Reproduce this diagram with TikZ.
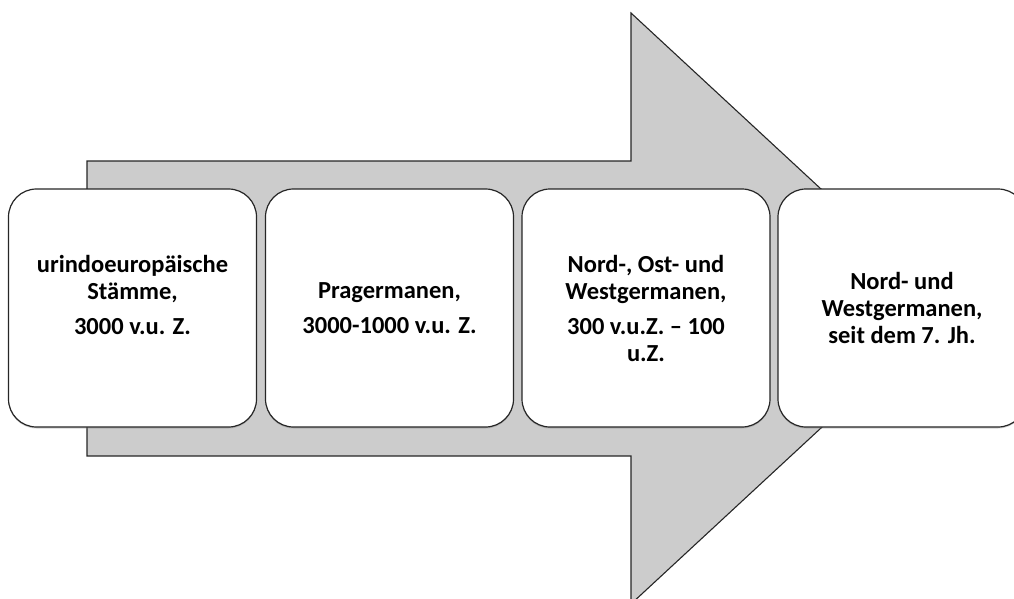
\documentclass[tikz,border=0pt]{standalone}
\usepackage{fontspec}
\setmainfont{Carlito}
\usetikzlibrary{shadows}
\definecolor{arrowgrey}{RGB}{204,204,204}
\begin{document}
\begin{tikzpicture}[x=1pt,y=-1pt,
    stage/.style={draw=black!85, line width=1.2pt, fill=white, rounded corners=28pt,
      minimum width=248pt, minimum height=238pt, inner sep=0pt, align=center,
      font=\fontsize{24.5}{27}\selectfont\bfseries,
      drop shadow={shadow xshift=0pt, shadow yshift=-1.5pt, opacity=0.35}}]
    \useasboundingbox (0,0) rectangle (1014,599);
    \clip (0,0) rectangle (1014,599);
    % big arrow
    \draw [black!85, line width=1.1pt, fill=arrowgrey] (87,161) -- (631,161) -- (631,13)
      -- (950,308.5) -- (631,604) -- (631,456) -- (87,456) -- cycle;
    % stages
    \node [stage] (s1) at (132.5,308) {urindoeuropäische\\Stämme,\\[8pt]3000 v.u. Z.\\~};
    \node [stage] (s2) at (389.5,308) {Pragermanen,\\[8pt]3000-1000 v.u. Z.};
    \node [stage] (s3) at (646,308) {Nord-, Ost- und\\Westgermanen,\\[8pt]300 v.u.Z. -- 100\\u.Z.};
    \node [stage] (s4) at (902,308) {Nord- und\\Westgermanen,\\seit dem 7. Jh.};
\end{tikzpicture}
\end{document}
